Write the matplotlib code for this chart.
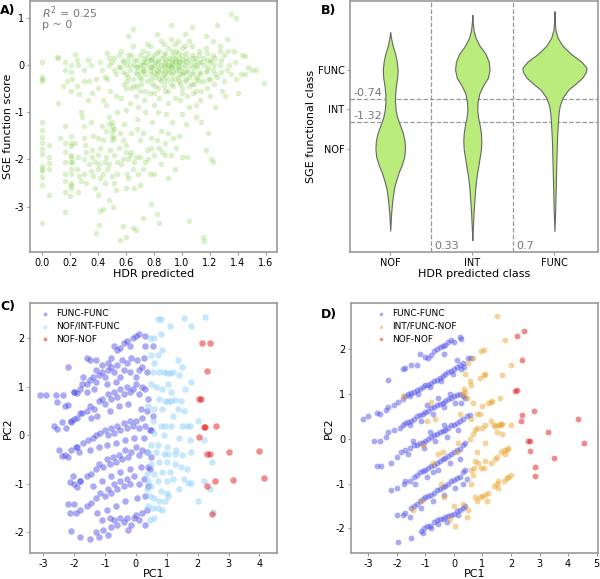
import numpy as np
import matplotlib
matplotlib.use('Agg')
import matplotlib.pyplot as plt

plt.rcParams['axes.unicode_minus'] = False
plt.rcParams['font.family'] = 'DejaVu Sans'

# ---------- panel A: HDR predicted vs SGE function score ----------
a_points = [
    (0, 0.05), (0, -0.25), (0, -0.3), (0, -0.35), (0, -1.2), (0, -1.38), (0, -1.52), (0, -1.65),
    (0, -1.78), (0, -1.88), (0, -2.15), (0, -2.2), (0, -2.25), (0, -2.38), (0, -2.55), (0, -3.35),
    (0.05, -1.7), (0.05, -1.95), (0.05, -2.08), (0.05, -2.2), (0.05, -2.75),
    (0.11, 0.17), (0.12, 0.15), (0.15, -0.45), (0.12, -0.8), (0.13, -1.55),
    (0.17, 0.05), (0.17, -0.1), (0.18, -0.35), (0.17, -1.3), (0.17, -1.65), (0.17, -1.85), (0.17, -2.05),
    (0.17, -2.3), (0.17, -2.45), (0.17, -2.7), (0.17, -3.12), (0.2, -2.78),
    (0.21, 0.0), (0.21, -0.15), (0.22, -0.3), (0.21, -0.55), (0.21, -1.5), (0.21, -1.65), (0.21, -1.72),
    (0.21, -1.9), (0.21, -1.95), (0.21, -2.05), (0.21, -2.2), (0.21, -2.3), (0.21, -2.5), (0.21, -2.55),
    (0.21, -2.6), (0.22, -2.05),
    (0.24, 0.22), (0.25, 0.1), (0.26, 0.0), (0.25, -0.45), (0.27, -0.62), (0.24, -1.65), (0.26, -1.95),
    (0.25, -2.2), (0.27, -2.35), (0.26, -2.7), (0.28, -1.0), (0.29, -1.1), (0.3, -0.1), (0.3, -0.35),
    (0.3, -1.3), (0.31, -1.7), (0.3, -2.0), (0.3, -2.3), (0.32, -2.5), (0.33, -0.75),
    (0.33, 0.1), (0.35, 0.0), (0.34, -0.35), (0.36, -0.6), (0.35, -1.2), (0.37, -1.5), (0.36, -1.8),
    (0.35, -2.25), (0.37, -2.35), (0.38, -2.6), (0.39, -0.3), (0.4, -0.5), (0.4, -1.55), (0.4, -1.9),
    (0.41, -2.1), (0.42, -2.4), (0.4, -2.75), (0.42, -3.1), (0.41, -3.38), (0.39, -3.55), (0.43, -0.1),
    (0.44, -0.75), (0.44, -1.6), (0.45, -2.05), (0.45, -2.5), (0.44, -3.05), (0.43, -1.3), (0.42, 0.05),
    (0.47, 0.25), (0.48, 0.0), (0.47, -0.3), (0.49, -0.55), (0.46, -0.85), (0.48, -1.1), (0.5, -1.3),
    (0.5, -1.4), (0.5, -1.5), (0.49, -1.8), (0.47, -2.2), (0.5, -2.35), (0.52, -2.5), (0.48, -2.85),
    (0.51, -3.0), (0.52, 0.15), (0.53, -0.2), (0.53, -0.65), (0.54, -1.0), (0.52, -1.55), (0.55, -1.75),
    (0.54, -2.05), (0.53, -2.65), (0.55, -0.05),
    (0.57, 0.3), (0.58, 0.05), (0.58, -0.15), (0.59, -0.4), (0.57, -0.7), (0.6, -0.95), (0.59, -1.25),
    (0.58, -1.6), (0.6, -1.85), (0.57, -2.1), (0.61, -2.3), (0.6, -2.6), (0.56, -3.7), (0.6, -3.65),
    (0.58, -3.4), (0.62, 0.2), (0.63, 0.0), (0.62, -0.25), (0.64, -0.5), (0.63, -0.8), (0.64, -1.45),
    (0.63, -1.9), (0.62, -2.0), (0.65, -2.2), (0.65, -3.45), (0.67, -3.5), (0.62, 0.6), (0.65, 0.75),
    (0.66, 0.1), (0.67, -0.05), (0.68, -0.2), (0.68, -0.45), (0.67, -0.65), (0.69, -0.9), (0.68, -1.15),
    (0.7, -1.6), (0.67, -1.95), (0.69, -2.3), (0.7, -2.55), (0.66, -2.6), (0.72, 0.3), (0.72, 0.05),
    (0.73, -0.1), (0.71, -0.3), (0.74, -0.55), (0.73, -0.75), (0.74, -1.0), (0.72, -1.45), (0.75, -1.8),
    (0.74, -2.05), (0.72, -3.25), (0.75, 0.15), (0.7, 0.0), (0.71, -0.15),
    (0.77, 0.4), (0.77, 0.1), (0.78, -0.05), (0.78, -0.2), (0.79, -0.4), (0.77, -0.6), (0.8, -0.85),
    (0.79, -1.2), (0.78, -1.55), (0.8, -1.9), (0.77, -2.3), (0.78, -2.95), (0.82, 0.65), (0.82, 0.25),
    (0.83, 0.05), (0.82, -0.1), (0.84, -0.3), (0.83, -0.5), (0.84, -0.7), (0.83, -1.0), (0.85, -1.4),
    (0.84, -1.75), (0.85, -2.1), (0.82, -3.15), (0.84, -3.35), (0.8, 0.0), (0.81, -0.25), (0.79, 0.15),
    (0.87, 0.45), (0.87, 0.2), (0.88, 0.05), (0.88, -0.05), (0.87, -0.2), (0.89, -0.35), (0.88, -0.55),
    (0.9, -0.8), (0.89, -1.05), (0.9, -1.45), (0.88, -1.9), (0.9, -2.4), (0.92, 0.85), (0.92, 0.55),
    (0.93, 0.3), (0.92, 0.1), (0.93, -0.05), (0.94, -0.15), (0.92, -0.3), (0.94, -0.45), (0.95, -0.7),
    (0.93, -1.2), (0.94, -1.55), (0.95, -2.2), (0.91, 0.0), (0.9, -0.1), (0.95, 0.15), (0.86, -0.25),
    (0.97, 0.5), (0.97, 0.25), (0.98, 0.05), (0.97, -0.05), (0.99, -0.2), (0.98, -0.35), (1.0, -0.5),
    (0.99, -0.75), (1.0, -1.05), (0.98, -1.5), (1.0, -1.95), (1.02, 0.65), (1.02, 0.4), (1.03, 0.15),
    (1.02, 0.0), (1.04, -0.1), (1.03, -0.3), (1.05, -0.45), (1.04, -0.65), (1.05, -0.9), (1.03, -1.25),
    (1.04, -1.95), (1.05, -3.3), (0.96, 0.1), (1.01, -0.15), (1.0, 0.2),
    (1.07, 0.8), (1.07, 0.4), (1.08, 0.15), (1.08, -0.05), (1.07, -0.2), (1.09, -0.4), (1.08, -0.6),
    (1.1, -0.85), (1.1, -1.1), (1.12, 0.3), (1.12, 0.05), (1.13, -0.15), (1.12, -0.35), (1.14, -0.55),
    (1.13, -0.75), (1.14, -1.2), (1.15, -3.65), (1.16, -3.72), (1.1, 0.0), (1.11, -0.25),
    (1.17, 0.6), (1.17, 0.35), (1.18, 0.1), (1.18, -0.1), (1.19, -0.3), (1.18, -0.5), (1.2, -0.65),
    (1.19, -1.45), (1.17, -1.8), (1.21, -2.0), (1.22, -2.05), (1.22, 0.5), (1.22, 0.2), (1.23, 0.0),
    (1.24, -0.2), (1.23, -0.4), (1.24, -0.9), (1.25, 0.85), (1.2, 0.05),
    (1.27, 0.4), (1.28, 0.1), (1.28, -0.15), (1.3, -0.35), (1.29, -0.55), (1.32, 0.55), (1.33, 0.3),
    (1.34, 0.0), (1.35, -0.2), (1.35, 1.08), (1.39, 0.98), (1.37, 0.3), (1.38, 0.05), (1.39, -0.3),
    (1.42, -0.2), (1.43, 0.2), (1.45, 0.18), (1.47, -0.05), (1.5, -0.12), (1.53, -0.12), (1.59, -0.38),
    (1.4, -0.6), (1.31, -0.65), (1.45, -0.2), (1.27, 0.3),
]
# the dense cloud around 0 and the lower cloud around -2
a_core = [
    (0.56, -0.05), (0.58, 0.1), (0.6, -0.2), (0.6, 0.0), (0.61, -0.35), (0.62, 0.1), (0.63, -0.1),
    (0.64, 0.2), (0.65, -0.3), (0.66, 0.0), (0.67, -0.15), (0.68, 0.1), (0.69, -0.05), (0.7, -0.25),
    (0.7, 0.2), (0.71, -0.4), (0.72, 0.0), (0.72, -0.1), (0.73, 0.15), (0.74, -0.2), (0.74, 0.05),
    (0.75, -0.35), (0.76, 0.0), (0.76, 0.25), (0.77, -0.1), (0.78, 0.1), (0.78, -0.3), (0.79, -0.05),
    (0.8, 0.2), (0.8, -0.15), (0.81, 0.05), (0.81, -0.45), (0.82, -0.2), (0.83, 0.1), (0.83, -0.05),
    (0.84, 0.3), (0.84, -0.15), (0.85, 0.0), (0.85, -0.35), (0.86, 0.15), (0.86, -0.1), (0.87, 0.0),
    (0.87, -0.45), (0.88, 0.25), (0.88, -0.15), (0.89, 0.1), (0.89, -0.25), (0.9, 0.0), (0.9, 0.35),
    (0.91, -0.15), (0.91, 0.15), (0.92, -0.05), (0.92, -0.4), (0.93, 0.05), (0.93, -0.2), (0.94, 0.2),
    (0.94, 0.0), (0.95, -0.3), (0.95, 0.05), (0.96, -0.1), (0.96, 0.3), (0.97, 0.0), (0.97, -0.25),
    (0.98, 0.15), (0.98, -0.1), (0.99, 0.05), (0.99, -0.4), (1.0, -0.05), (1.0, 0.35), (1.01, 0.1),
    (1.01, -0.2), (1.02, -0.35), (1.03, 0.05), (1.03, 0.25), (1.04, -0.15), (1.05, 0.1), (1.05, -0.25),
    (1.06, 0.0), (1.07, -0.4), (1.07, 0.2), (1.08, -0.15), (1.09, 0.05), (1.1, 0.15), (1.1, -0.3),
    (1.11, -0.05), (1.12, 0.2), (1.13, -0.2), (1.14, 0.05), (1.15, -0.35), (1.15, 0.15), (1.16, 0.0),
    (1.17, -0.15), (1.18, 0.25), (1.19, -0.05), (1.2, -0.3), (1.21, 0.1), (1.22, -0.1), (1.24, 0.15),
    (1.25, -0.25), (1.27, 0.0), (0.65, 0.4), (0.75, 0.45), (0.85, 0.5), (0.95, 0.45), (1.05, 0.5),
    (0.7, -0.55), (0.8, -0.6), (0.9, -0.55), (1.0, -0.6), (1.1, -0.55), (0.6, -0.5), (0.66, -0.45),
    (0.55, 0.2), (0.5, 0.05), (0.52, -0.1), (0.45, -0.25), (0.48, 0.15), (1.3, 0.2), (1.32, -0.1),
    (0.36, -1.95), (0.38, -2.05), (0.4, -2.2), (0.42, -1.75), (0.44, -2.3), (0.46, -1.95), (0.48, -2.1),
    (0.5, -1.6), (0.52, -1.9), (0.54, -2.3), (0.56, -1.45), (0.58, -2.0), (0.6, -1.7), (0.62, -2.4),
    (0.64, -1.85), (0.66, -2.05), (0.68, -1.35), (0.3, -1.55), (0.32, -1.85), (0.34, -2.1),
    (0.28, -2.45), (0.46, -1.4), (0.48, -1.25), (0.5, -1.2), (0.52, -1.35), (0.7, -1.95), (0.72, -2.2),
    (0.76, -2.0), (0.78, -1.75), (0.8, -2.3), (0.82, -1.6), (0.86, -1.85), (0.88, -1.65), (0.92, -1.9),
    (0.96, -1.75),
]

# ---------- panel B: violin outlines (SGE score, half width) ----------
classes = ['NOF', 'INT', 'FUNC']
nof_profile = [
    (0.95, 0.0), (0.8, 0.01), (0.6, 0.03), (0.4, 0.06), (0.2, 0.08), (0.0, 0.09), (-0.2, 0.085),
    (-0.4, 0.07), (-0.6, 0.06), (-0.8, 0.058), (-1.0, 0.065), (-1.2, 0.085), (-1.4, 0.12),
    (-1.6, 0.155), (-1.8, 0.175), (-2.0, 0.18), (-2.2, 0.17), (-2.4, 0.14), (-2.6, 0.1),
    (-2.8, 0.07), (-3.0, 0.045), (-3.3, 0.025), (-3.6, 0.012), (-4.05, 0.0),
]
int_profile = [
    (1.38, 0.0), (1.2, 0.005), (1.0, 0.015), (0.8, 0.04), (0.6, 0.09), (0.4, 0.16), (0.2, 0.2),
    (0.0, 0.21), (-0.2, 0.19), (-0.4, 0.13), (-0.6, 0.085), (-0.8, 0.065), (-1.0, 0.06),
    (-1.2, 0.07), (-1.4, 0.09), (-1.6, 0.105), (-1.8, 0.11), (-2.0, 0.105), (-2.2, 0.09),
    (-2.4, 0.075), (-2.6, 0.058), (-2.8, 0.045), (-3.0, 0.035), (-3.3, 0.025), (-3.6, 0.015),
    (-4.0, 0.006), (-4.29, 0.0),
]
func_profile = [
    (1.47, 0.0), (1.2, 0.005), (1.0, 0.012), (0.8, 0.04), (0.6, 0.1), (0.4, 0.2), (0.2, 0.33),
    (0.05, 0.39), (-0.05, 0.385), (-0.2, 0.34), (-0.35, 0.26), (-0.5, 0.17), (-0.7, 0.1),
    (-0.9, 0.065), (-1.1, 0.05), (-1.4, 0.04), (-1.8, 0.03), (-2.2, 0.025), (-2.6, 0.02),
    (-3.0, 0.015), (-3.5, 0.01), (-4.06, 0.0),
]
sge_thresholds = [-0.74, -1.32]
hdr_thresholds = [0.33, 0.7]

# ---------- panel C: PCA, SGE classes ----------
c_func_func = [
    (-3.1, 0.83), (-2.9, 0.83), (-2.6, 0.83), (-2.55, 0.68), (-2.35, 0.83), (-2.3, 0.6), (-2.2, 0.63),
    (-2.4, 0.27), (-2.25, 0.15), (-2.55, 0.12), (-2.65, 0.2), (-2.5, -0.3), (-2.4, -0.42), (-2.2, -0.45),
    (-2.2, 1.4), (-2.0, 0.9), (-1.9, 0.88), (-2.0, 0.33), (-2.1, 0.27), (-1.95, -0.25), (-2.05, -0.85),
    (-2.15, -0.97), (-2.2, -1.42), (-2.0, -1.42), (-2.15, -1.6), (-1.95, -1.6), (-2.1, -1.98),
    (-1.8, -2.1), (-1.9, -1.07), (-1.8, -0.95), (-1.85, -0.35), (-1.8, 0.45), (-1.75, 1.05),
    (-1.7, 1.2), (-1.6, 1.6), (-1.5, 1.55), (-1.3, 1.55),
    (-1.3, 1.35), (-1.1, 1.45), (-0.9, 1.5), (-0.8, 1.6), (-0.6, 1.75), (-0.5, 1.8), (-0.4, 1.9),
    (-0.3, 1.95), (-0.2, 1.85), (-0.1, 2.0), (0.0, 2.05), (0.1, 2.1), (0.3, 2.05), (-0.7, 1.85),
    (-0.15, 1.6), (0.05, 1.55), (0.25, 1.6), (0.3, 1.85), (0.55, 1.85), (-0.45, 1.55),
    (-2.0, 0.9), (-1.8, 0.95), (-1.6, 1.05), (-1.5, 1.15), (-1.4, 1.2), (-1.3, 1.1), (-1.2, 1.25),
    (-1.1, 1.3), (-1.0, 1.2), (-0.9, 1.35), (-0.8, 1.4), (-0.7, 1.3), (-0.6, 1.45), (-0.5, 1.2),
    (-0.4, 1.35), (-0.3, 1.5), (-0.2, 1.3), (0.0, 1.2), (0.1, 1.35), (0.2, 1.4), (0.35, 1.3),
    (-1.6, 0.9), (-1.35, 0.95), (-0.95, 1.05), (-0.65, 1.1),
    (-2.1, 0.3), (-1.9, 0.35), (-1.75, 0.45), (-1.6, 0.5), (-1.5, 0.6), (-1.35, 0.55), (-1.2, 0.7),
    (-1.1, 0.75), (-1.0, 0.65), (-0.9, 0.85), (-0.8, 0.75), (-0.7, 0.9), (-0.6, 0.8), (-0.5, 0.95),
    (-0.4, 0.85), (-0.3, 1.0), (-0.2, 0.9), (-0.1, 0.95), (0.0, 1.05), (0.1, 0.85), (0.2, 1.0),
    (0.3, 0.95), (0.4, 0.75), (-1.45, 0.35), (-1.25, 0.4), (-0.85, 0.5), (-0.55, 0.6), (-0.25, 0.65),
    (0.15, 0.55), (0.35, 0.5),
    (-2.3, -0.4), (-2.1, -0.3), (-1.9, -0.25), (-1.7, -0.15), (-1.55, -0.1), (-1.4, -0.05), (-1.3, 0.0),
    (-1.15, 0.05), (-1.0, 0.1), (-0.9, 0.0), (-0.8, 0.15), (-0.7, 0.05), (-0.6, 0.2), (-0.5, 0.1),
    (-0.4, 0.25), (-0.3, 0.15), (-0.2, 0.3), (-0.1, 0.2), (0.0, 0.3), (0.1, 0.15), (0.2, 0.35),
    (0.3, 0.2), (0.45, 0.1), (-1.5, -0.3), (-1.2, -0.25), (-0.95, -0.2), (-0.65, -0.15),
    (-0.35, -0.1), (-0.05, -0.05), (0.25, -0.05),
    (-2.0, -1.0), (-1.8, -0.95), (-1.6, -0.85), (-1.45, -0.8), (-1.3, -0.7), (-1.2, -0.6),
    (-1.05, -0.65), (-0.95, -0.5), (-0.85, -0.6), (-0.75, -0.45), (-0.65, -0.55), (-0.55, -0.4),
    (-0.45, -0.5), (-0.35, -0.3), (-0.25, -0.45), (-0.15, -0.35), (0.0, -0.25), (0.1, -0.4),
    (0.2, -0.3), (0.35, -0.35), (0.5, -0.45), (-1.4, -1.05), (-1.1, -0.95), (-0.8, -0.85),
    (-0.5, -0.75), (-0.2, -0.7), (0.15, -0.65), (0.4, -0.65),
    (-1.8, -1.55), (-1.6, -1.45), (-1.45, -1.4), (-1.3, -1.3), (-1.15, -1.2), (-1.0, -1.25),
    (-0.9, -1.1), (-0.8, -1.2), (-0.7, -1.0), (-0.6, -1.1), (-0.5, -0.95), (-0.4, -1.05), (-0.3, -0.9),
    (-0.2, -1.0), (-0.05, -0.85), (0.1, -1.0), (0.25, -0.9), (0.4, -1.05), (-1.25, -1.6),
    (-0.95, -1.55), (-0.65, -1.45), (-0.35, -1.35), (0.05, -1.3), (0.3, -1.25),
    (-1.5, -2.15), (-1.3, -2.0), (-1.2, -2.1), (-1.05, -1.95), (-0.9, -2.05), (-0.8, -1.9),
    (-0.7, -1.75), (-0.6, -1.85), (-0.5, -1.7), (-0.4, -1.8), (-0.3, -1.7), (-0.15, -1.85),
    (-0.05, -1.7), (0.1, -1.75), (0.2, -1.6), (0.35, -1.55), (-1.1, -1.75), (-0.85, -1.7),
    (-0.25, -1.95), (0.0, -1.65), (0.5, 0.1), (0.45, -0.7), (0.3, -1.85), (0.55, 0.4),
]
c_int_func = [
    (0.7, 2.4), (0.8, 2.4), (1.55, 2.43), (2.25, 2.45), (1.8, 2.25), (1.1, 2.25), (0.8, 2.1),
    (0.6, 2.0), (0.45, 2.0), (0.5, 1.65), (0.7, 1.65), (0.85, 1.75), (1.35, 1.55), (1.5, 1.4),
    (0.55, 1.3), (0.75, 1.3), (0.9, 1.3), (1.0, 1.28), (1.1, 1.28), (1.2, 1.3), (1.4, 1.25),
    (1.8, 1.1), (1.6, 0.95), (0.5, 1.05), (0.65, 1.0), (0.85, 0.95), (1.15, 0.9), (0.75, 0.75),
    (0.95, 0.7), (1.05, 0.7), (1.15, 0.7), (1.25, 0.72), (1.45, 0.7), (0.6, 0.55), (0.85, 0.55),
    (1.2, 0.4), (1.55, 0.5), (1.35, 0.55), (0.55, 0.3), (0.8, 0.2), (0.95, 0.2), (1.15, 0.2),
    (1.5, 0.2), (1.65, 0.2), (1.75, 0.2), (2.0, 0.3), (0.6, 0.05), (0.9, 0.0), (1.4, -0.05),
    (1.75, -0.1), (2.2, -0.1), (0.5, -0.2), (0.7, -0.2), (1.0, -0.25), (1.3, -0.3), (0.4, -0.35),
    (0.65, -0.35), (0.9, -0.38), (1.05, -0.38), (1.25, -0.38), (1.5, -0.4), (1.8, -0.35),
    (2.45, -0.55), (0.5, -0.6), (0.75, -0.55), (1.0, -0.55), (1.25, -0.6), (1.45, -0.65),
    (1.65, -0.7), (0.35, -0.8), (0.6, -0.8), (0.85, -0.75), (1.1, -0.75), (0.4, -0.95), (0.7, -0.95),
    (1.0, -0.95), (1.2, -0.9), (1.55, -0.9), (1.7, -0.98), (1.8, -0.98), (2.2, -0.95), (0.35, -1.1),
    (0.5, -1.05), (0.8, -1.15), (1.0, -1.2), (0.45, -1.25), (0.6, -1.3), (0.75, -1.35), (0.95, -1.35),
    (0.4, -1.45), (0.55, -1.5), (0.7, -1.5), (0.85, -1.55), (2.0, -1.35), (2.5, -1.58), (0.45, -1.75),
    (0.6, -1.7), (1.05, -1.25), (1.4, -1.1), (2.4, -1.1), (0.6, 1.5), (1.05, 1.05), (0.4, 0.6),
]
c_nof_nof = [
    (2.15, 1.9), (2.4, 1.9), (2.3, 1.32), (2.05, 0.75), (2.1, 0.75), (2.2, 0.18), (2.25, 0.18),
    (2.6, 0.2), (2.05, -0.03), (2.3, -0.38), (2.4, -0.38), (3.0, -0.35), (4.0, -0.32), (2.55, -0.95),
    (3.15, -0.92), (4.15, -0.88), (2.3, -1.05), (2.45, -1.62),
]

# ---------- panel D: PCA, HDR classes ----------
d_func_func = [
    (-2.3, 1.32), (-1.8, 1.55), (-1.7, 1.58), (-1.5, 1.65), (-1.2, 1.9), (-1.0, 1.82), (-0.8, 1.88),
    (-0.7, 1.95), (-0.6, 2.0), (-0.5, 2.05), (-0.4, 2.08), (-0.3, 2.1), (-0.2, 2.15), (-0.1, 2.2),
    (0.0, 2.15), (0.2, 2.28), (0.25, 2.22), (-0.9, 1.8), (-1.3, 1.65), (-0.35, 1.9),
    (-3.2, 0.45), (-3.0, 0.5), (-2.7, 0.58), (-2.6, 0.55), (-2.4, 0.65), (-2.3, 0.7), (-2.1, 0.75),
    (-1.95, 0.82), (-1.8, 0.88), (-1.7, 0.95), (-1.6, 1.0), (-1.5, 1.02), (-1.4, 1.05), (-1.3, 1.08),
    (-1.2, 1.1), (-1.1, 1.15), (-1.0, 1.2), (-0.9, 1.2), (-0.8, 1.25), (-0.7, 1.3), (-0.6, 1.32),
    (-0.5, 1.35), (-0.4, 1.4), (-0.3, 1.45), (-0.2, 1.5), (-0.1, 1.52), (0.0, 1.55), (0.1, 1.6),
    (0.2, 1.65), (0.3, 1.7), (0.5, 1.8), (0.6, 1.8), (-1.25, 1.0), (-0.85, 1.15), (-0.45, 1.3),
    (-0.05, 1.45), (0.25, 1.55), (-1.55, 0.95), (0.1, 1.75), (0.35, 1.6),
    (-2.8, -0.05), (-2.6, -0.05), (-2.4, 0.05), (-2.3, 0.15), (-2.1, 0.2), (-1.9, 0.25), (-1.8, 0.3),
    (-1.7, 0.35), (-1.6, 0.38), (-1.5, 0.4), (-1.4, 0.45), (-1.3, 0.5), (-1.2, 0.52), (-1.1, 0.55),
    (-1.0, 0.6), (-0.9, 0.62), (-0.8, 0.68), (-0.7, 0.7), (-0.6, 0.75), (-0.5, 0.78), (-0.4, 0.8),
    (-0.3, 0.85), (-0.2, 0.88), (-0.1, 0.9), (0.0, 0.95), (0.1, 0.98), (0.2, 1.0), (0.3, 0.95),
    (0.4, 0.9), (-1.15, 0.4), (-0.75, 0.55), (-0.35, 0.7), (0.05, 0.8), (-1.55, 0.3), (-0.95, 0.75),
    (-0.55, 0.9), (-0.15, 1.0), (0.25, 0.8),
    (-2.7, -0.6), (-2.55, -0.6), (-2.2, -0.55), (-2.0, -0.4), (-1.85, -0.3), (-1.7, -0.25),
    (-1.55, -0.2), (-1.4, -0.15), (-1.3, -0.15), (-1.2, -0.1), (-1.1, -0.1), (-1.0, -0.05),
    (-0.9, 0.0), (-0.8, 0.05), (-0.7, 0.08), (-0.6, 0.1), (-0.5, 0.15), (-0.4, 0.18), (-0.3, 0.2),
    (-0.2, 0.25), (-0.1, 0.3), (0.0, 0.3), (0.1, 0.35), (0.2, 0.4), (0.3, 0.45), (0.45, 0.5),
    (0.55, 0.52), (-1.6, -0.35), (-1.05, -0.2), (-0.65, -0.05), (-0.25, 0.05), (0.15, 0.2),
    (-1.45, -0.05), (-0.85, 0.15), (-0.35, 0.3),
    (-2.2, -1.15), (-2.0, -1.1), (-1.7, -0.95), (-1.55, -0.95), (-1.4, -0.85), (-1.3, -0.8),
    (-1.2, -0.75), (-1.1, -0.72), (-1.0, -0.7), (-0.9, -0.65), (-0.8, -0.6), (-0.7, -0.58),
    (-0.6, -0.55), (-0.5, -0.5), (-0.4, -0.45), (-0.3, -0.42), (-0.2, -0.38), (-0.1, -0.35),
    (0.0, -0.3), (0.1, -0.25), (0.2, -0.22), (0.3, -0.15), (0.4, -0.1), (-1.35, -1.0), (-0.95, -0.85),
    (-0.55, -0.7), (-0.15, -0.55), (0.2, -0.45), (-1.75, -1.0), (-0.75, -0.75),
    (-2.0, -1.7), (-1.8, -1.7), (-1.7, -1.65), (-1.5, -1.55), (-1.4, -1.5), (-1.3, -1.45),
    (-1.2, -1.4), (-1.1, -1.35), (-1.0, -1.3), (-0.9, -1.28), (-0.8, -1.25), (-0.7, -1.2),
    (-0.6, -1.15), (-0.5, -1.12), (-0.4, -1.08), (-0.3, -1.05), (-0.2, -1.0), (-0.1, -0.95),
    (0.0, -0.92), (0.1, -0.88), (0.2, -0.85), (0.3, -0.75), (0.4, -0.7), (-1.15, -1.55),
    (-0.75, -1.4), (-0.35, -1.25), (0.05, -1.1), (0.3, -1.0), (-1.55, -1.75), (0.45, -0.9),
    (-1.95, -2.3), (-1.5, -2.22), (-1.15, -2.05), (-1.05, -2.0), (-0.95, -1.95), (-0.85, -1.95),
    (-0.7, -1.85), (-0.6, -1.82), (-0.5, -1.8), (-0.4, -1.78), (-0.3, -1.75), (-0.2, -1.72),
    (-0.1, -1.7), (0.0, -1.68), (0.1, -1.62), (0.2, -1.6), (0.3, -1.55), (0.4, -1.5), (-1.1, -2.1),
    (-0.8, -2.0), (-0.55, -1.9), (-0.25, -1.85), (0.15, -1.7),
]
d_int_nof = [
    (-1.8, 0.95), (-0.8, 0.82), (-0.65, 0.45), (-1.1, -0.15), (-0.75, -0.55), (-0.55, -0.35),
    (-0.4, -0.3), (-1.15, -1.4), (-0.45, -1.0), (-0.35, -1.3), (0.05, -1.95), (-0.15, -1.8),
    (0.0, -1.5), (0.1, -0.3), (0.15, -0.1), (0.2, 0.55), (0.3, 1.0), (0.35, 1.1), (0.4, 1.05),
    (0.45, 0.9), (0.4, 1.45), (0.5, 1.7), (0.65, 1.8), (-1.45, -1.6), (-0.95, 0.4), (0.3, -1.45),
    (0.55, 0.0), (0.65, 0.1), (0.75, 0.2), (0.8, 0.25), (1.0, 0.25), (1.1, 0.3), (1.3, 0.4),
    (1.4, 0.3), (1.45, 0.28), (1.55, 0.3), (1.6, 0.3), (1.65, 0.32), (1.7, 0.32), (1.5, 0.15),
    (1.7, 0.1), (2.0, 0.3), (0.6, 0.45), (0.8, 0.55), (0.9, 0.55), (1.2, 0.8), (1.3, 0.82),
    (1.35, 0.85), (1.6, 0.9), (1.0, 0.72), (0.95, 1.95), (1.05, 1.97), (1.5, 2.75), (1.8, 2.2),
    (2.0, 1.65), (1.7, 1.42), (0.9, 1.35), (1.05, 1.42), (1.1, 1.45), (0.6, 1.2), (0.55, 1.3),
    (0.65, 0.8), (0.75, -0.5), (0.85, -0.55), (0.95, -0.65), (1.05, -0.65), (0.7, -0.65),
    (0.65, -0.8), (1.1, -0.5), (1.3, -0.55), (1.45, -0.45), (1.5, -0.4), (1.65, -0.3), (1.75, -0.25),
    (1.85, -0.25), (1.9, -0.2), (1.8, -0.35), (1.1, -0.1), (0.8, -0.3), (0.6, -1.0), (0.8, -1.4),
    (0.9, -1.3), (1.0, -1.28), (1.1, -1.25), (1.2, -1.2), (1.15, -1.4), (1.4, -1.05), (1.5, -1.0),
    (1.55, -0.95), (1.75, -0.95), (1.85, -0.88), (1.9, -0.85), (2.0, -0.82), (1.55, -1.1),
    (0.5, -1.6), (0.45, -1.75), (0.75, -1.3), (0.6, -0.7),
]
d_nof_nof = [
    (2.2, 2.3), (2.45, 2.4), (2.4, 1.75), (2.2, 1.08), (2.15, 1.07), (2.8, 0.63), (2.4, 0.52),
    (2.35, 0.4), (2.6, -0.05), (2.65, -0.05), (2.65, -0.27), (3.3, 0.15), (4.35, 0.45),
    (4.55, -0.1), (3.5, -0.42), (2.85, -0.62), (2.85, -0.83),
]

GREY = '#777777'
SPINE = '#999999'
TICK_FS = 7
LABEL_FS = 8


def style(ax):
    for s in ax.spines.values():
        s.set_color(SPINE)
        s.set_linewidth(1.2)
    ax.tick_params(labelsize=TICK_FS, length=2.5, color=SPINE, width=0.8, pad=1.5)


def xy(points):
    arr = np.array(points)
    return arr[:, 0], arr[:, 1]


fig = plt.figure(figsize=(6, 5.79), dpi=100)

# A
ax = fig.add_axes([0.05, 0.5648, 0.4117, 0.4335])
x, y = xy(a_points + a_core)
ax.scatter(x, y, s=16, color='#6cc92c', alpha=0.25, linewidths=0)
ax.set_xlim(-0.083, 1.68)
ax.set_ylim(-3.96, 1.35)
ax.set_xticks(np.arange(0, 1.61, 0.2))
ax.set_xticklabels(['%.1f' % v for v in np.arange(0, 1.61, 0.2)])
ax.set_yticks([-3, -2, -1, 0, 1])
ax.set_xlabel('HDR predicted', fontsize=LABEL_FS, labelpad=1)
ax.set_ylabel('SGE function score', fontsize=LABEL_FS, labelpad=1)
ax.text(0.05, 0.985, '$R^2$ = 0.25', transform=ax.transAxes, color=GREY, fontsize=8, va='top')
ax.text(0.05, 0.925, 'p ~ 0', transform=ax.transAxes, color=GREY, fontsize=8, va='top')
style(ax)

# B
ax = fig.add_axes([0.5833, 0.5648, 0.4133, 0.4335])
for i, prof in enumerate([nof_profile, int_profile, func_profile]):
    yy, w = xy(prof)
    ax.fill_betweenx(yy, i - w, i + w, facecolor='#b9ec7a', edgecolor='#666666', linewidth=0.8, zorder=2)
for t in sge_thresholds:
    ax.axhline(t, color='#999999', ls='--', lw=0.9, zorder=1)
for v in [0.5, 1.5]:
    ax.axvline(v, color='#999999', ls='--', lw=0.9, zorder=1)
ax.text(-0.45, sge_thresholds[0] + 0.08, '%.2f' % sge_thresholds[0], color=GREY, fontsize=8)
ax.text(-0.45, sge_thresholds[1] + 0.08, '%.2f' % sge_thresholds[1], color=GREY, fontsize=8)
ax.text(0.54, -4.52, '%.2f' % hdr_thresholds[0], color=GREY, fontsize=8)
ax.text(1.54, -4.52, '%g' % hdr_thresholds[1], color=GREY, fontsize=8)
ax.set_xlim(-0.49, 2.53)
ax.set_ylim(-4.59, 1.73)
ax.set_xticks([0, 1, 2])
ax.set_xticklabels(classes)
ax.set_yticks([-2, -1, 0])
ax.set_yticklabels(['NOF', 'INT', 'FUNC'])
ax.set_xlabel('HDR predicted class', fontsize=LABEL_FS, labelpad=1)
ax.set_ylabel('SGE functional class', fontsize=LABEL_FS, labelpad=1)
style(ax)

# C
ax = fig.add_axes([0.05, 0.0449, 0.4117, 0.4318])
x, y = xy(c_func_func)
ax.scatter(x, y, s=22, color='#4646e6', alpha=0.45, linewidths=0, label='FUNC-FUNC')
x, y = xy(c_int_func)
ax.scatter(x, y, s=22, color='#8fd0fa', alpha=0.5, linewidths=0, label='NOF/INT-FUNC')
x, y = xy(c_nof_nof)
ax.scatter(x, y, s=22, color='#e00000', alpha=0.45, linewidths=0, label='NOF-NOF')
ax.set_xlim(-3.43, 4.57)
ax.set_ylim(-2.43, 2.73)
ax.set_xticks(range(-3, 5))
ax.set_yticks([-2, -1, 0, 1, 2])
ax.set_xlabel('PC1', fontsize=LABEL_FS, labelpad=0)
ax.set_ylabel('PC2', fontsize=LABEL_FS, labelpad=1)
ax.legend(loc='upper left', fontsize=6.5, frameon=False, markerscale=0.6,
          handletextpad=0.2, borderaxespad=0.3, labelspacing=0.4)
style(ax)

# D
ax = fig.add_axes([0.585, 0.0449, 0.4117, 0.4318])
x, y = xy(d_func_func)
ax.scatter(x, y, s=18, color='#4646e6', alpha=0.45, linewidths=0, label='FUNC-FUNC')
x, y = xy(d_int_nof)
ax.scatter(x, y, s=18, color='#e8a020', alpha=0.45, linewidths=0, label='INT/FUNC-NOF')
x, y = xy(d_nof_nof)
ax.scatter(x, y, s=18, color='#e00000', alpha=0.45, linewidths=0, label='NOF-NOF')
ax.set_xlim(-3.61, 5.05)
ax.set_ylim(-2.55, 3.03)
ax.set_xticks(range(-3, 6))
ax.set_yticks([-2, -1, 0, 1, 2])
ax.set_xlabel('PC1', fontsize=LABEL_FS, labelpad=0)
ax.set_ylabel('PC2', fontsize=LABEL_FS, labelpad=1)
ax.legend(loc='upper left', fontsize=6.5, frameon=False, markerscale=0.6,
          handletextpad=0.2, borderaxespad=0.3, labelspacing=0.4, bbox_to_anchor=(0.06, 1.0))
style(ax)

# panel letters
fig.text(0.0, 0.975, 'A)', fontsize=9, fontweight='bold')
fig.text(0.535, 0.975, 'B)', fontsize=9, fontweight='bold')
fig.text(0.0, 0.465, 'C)', fontsize=9, fontweight='bold')
fig.text(0.535, 0.45, 'D)', fontsize=9, fontweight='bold')

fig.savefig('out.png', dpi=100)
